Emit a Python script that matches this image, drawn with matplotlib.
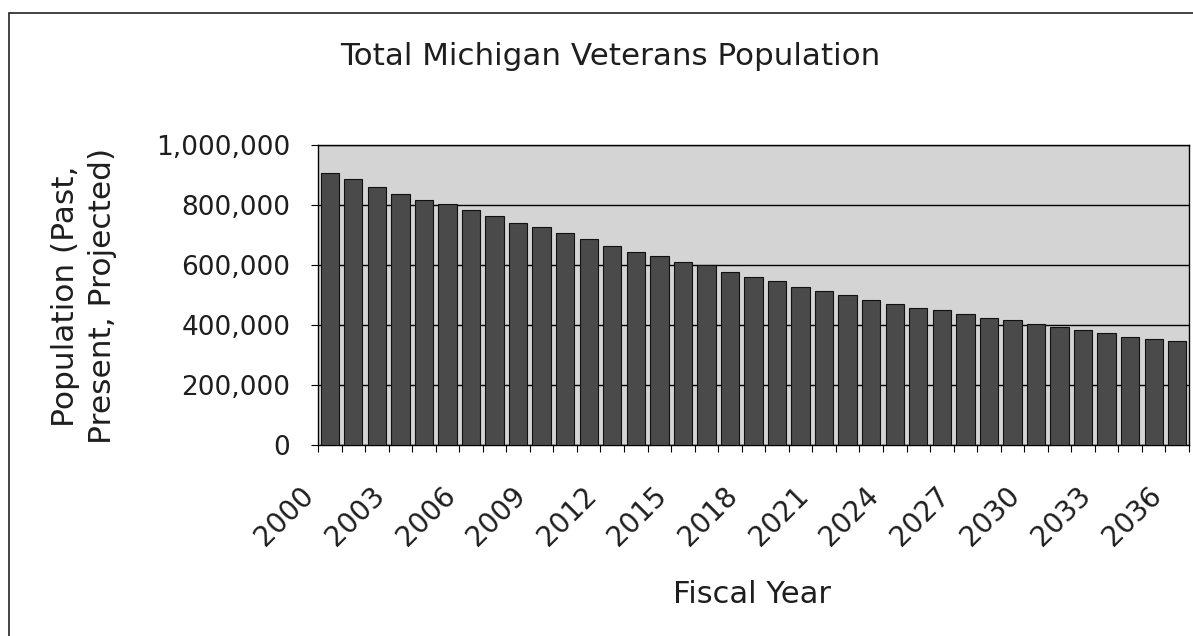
import numpy as np
import matplotlib.pyplot as plt
from matplotlib.patches import Rectangle
from matplotlib.ticker import FuncFormatter, FixedLocator
from matplotlib.transforms import ScaledTranslation

years = list(range(2000, 2037))
population = [907000, 886000, 859000, 838000, 816000, 803000, 783000, 762000,
              740000, 727000, 706000, 687000, 664000, 643000, 631000, 610000,
              599000, 577000, 561000, 548000, 528000, 512000, 500000, 484000,
              471000, 458000, 451000, 437000, 422000, 417000, 403000, 393000,
              382000, 374000, 361000, 353000, 347000]
y_ticks = [0, 200000, 400000, 600000, 800000, 1000000]

plt.rcParams['font.family'] = ['DejaVu Sans']
txt_col = '#1e1e1e'

W, H = 1193, 636
fig = plt.figure(figsize=(W / 100, H / 100), dpi=100)
fig.patch.set_facecolor('white')

# outer chart frame (runs off the right and bottom of the scan)
fig.patches.append(Rectangle((9 / W, -0.05), 1.2, 1 - 13 / H + 0.05,
                             transform=fig.transFigure, fill=False,
                             edgecolor='#222222', linewidth=1.2))

ax = fig.add_axes([318 / W, 1 - 445 / H, (1189 - 318) / W, (445 - 145) / H])
ax.set_facecolor('#d4d4d4')

x = np.arange(len(years))
ax.bar(x, population, width=0.78, color='#4a4a4a', edgecolor='#111111',
       linewidth=0.8, zorder=3)

ax.set_xlim(-0.5, len(years) - 0.5)
ax.set_ylim(0, 1000000)
ax.set_yticks(y_ticks)
ax.yaxis.set_major_formatter(FuncFormatter(lambda v, p: f'{int(v):,}'))
ax.yaxis.grid(True, color='black', linewidth=1.0, zorder=1)
ax.tick_params(axis='y', length=5, width=0.8, labelsize=19, pad=15,
               labelcolor=txt_col)

# tick marks between categories, labels every third year
ax.xaxis.set_minor_locator(FixedLocator(np.arange(-0.5, len(years), 1.0)))
ax.set_xticks(x[::3])
ax.set_xticklabels([str(y) for y in years[::3]], rotation=45, ha='right',
                   va='top', rotation_mode='anchor', fontsize=20,
                   color=txt_col)
ax.tick_params(axis='x', which='major', length=0, pad=26)
ax.tick_params(axis='x', which='minor', length=5, width=0.8)
shift = ScaledTranslation(-30 / 100, 0, fig.dpi_scale_trans)
for lab in ax.get_xticklabels():
    lab.set_transform(lab.get_transform() + shift)

for s in ax.spines.values():
    s.set_color('black')
    s.set_linewidth(1.0)

fig.text(752 / W, 1 - 603 / H, 'Fiscal Year', ha='center', va='baseline',
         fontsize=22, color=txt_col)
fig.text(84 / W, 1 - 296 / H, 'Population (Past,\nPresent, Projected)',
         ha='center', va='center', rotation=90, fontsize=22.5,
         color=txt_col, linespacing=1.35, multialignment='center')
fig.text(610 / W, 1 - 65 / H, 'Total Michigan Veterans Population',
         ha='center', va='baseline', fontsize=22.3, color=txt_col)

fig.savefig('out.png', dpi=100)
